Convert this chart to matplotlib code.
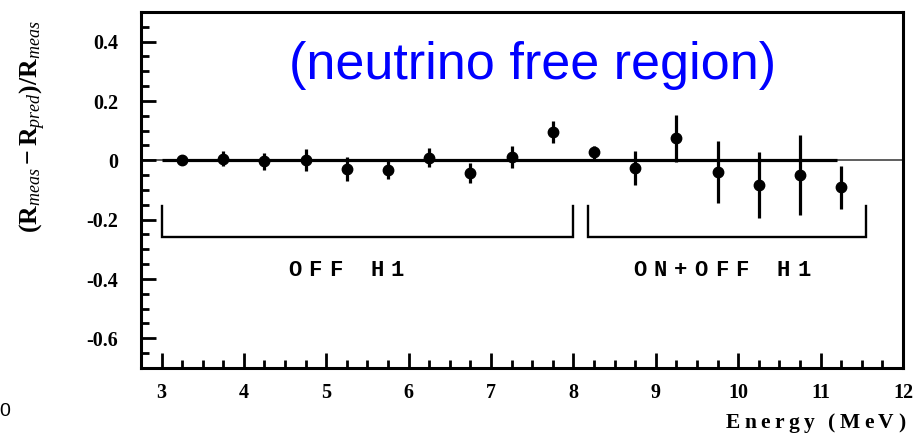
import matplotlib
matplotlib.use("Agg")
import matplotlib.pyplot as plt
from matplotlib.font_manager import FontProperties, findfont, get_font
import numpy as np

# residuals per 0.5 MeV bin
energy = [3.25, 3.75, 4.25, 4.75, 5.25, 5.75, 6.25, 6.75, 7.25,
          7.75, 8.25, 8.75, 9.25, 9.75, 10.25, 10.75, 11.25]
ratio = [0.0, 0.006, -0.003, 0.0, -0.028, -0.032, 0.008, -0.042, 0.011,
         0.097, 0.028, -0.026, 0.074, -0.040, -0.082, -0.048, -0.091]
err = [0.012, 0.025, 0.029, 0.037, 0.040, 0.030, 0.032, 0.033, 0.037,
       0.037, 0.022, 0.058, 0.078, 0.104, 0.111, 0.135, 0.072]

# data-taking periods shown as brackets under the points
periods = ["OFF H1", "ON+OFF H1"]
period_lo = [3.0, 8.18]
period_hi = [7.99, 11.55]
period_label_x = [5.24, 9.80]

yticks = [-0.6, -0.4, -0.2, 0, 0.2, 0.4]
ytick_labels = ["-0.6", "-0.4", "-0.2", "0", "0.2", "0.4"]
xticks = list(range(3, 13))

DPI = 100
serif_b = dict(family="Liberation Serif", weight="bold")

plt.rcParams["mathtext.fontset"] = "custom"
plt.rcParams["mathtext.rm"] = "Liberation Serif:bold"
plt.rcParams["mathtext.bf"] = "Liberation Serif:bold"
plt.rcParams["mathtext.it"] = "Liberation Serif:italic"

fig = plt.figure(figsize=(9.14, 4.34), dpi=DPI)
ax = fig.add_axes([140.5 / 914, 66 / 434, (903 - 140.5) / 914, (368 - 12) / 434])
ax.set_xlim(2.745, 12)
ax.set_ylim(-0.7, 0.5)

# zero reference: thin across the frame, thick over the fitted range
ax.axhline(0, color="#333333", lw=1.1, zorder=1)
ax.hlines(0, 3.0, 11.2, color="black", lw=2.3, zorder=2)

ax.errorbar(energy, ratio, yerr=err, fmt="o", color="black", ms=7.5,
            elinewidth=2.3, capsize=0, zorder=3)

for lo, hi in zip(period_lo, period_hi):
    ax.plot([lo, lo, hi, hi], [-0.155, -0.257, -0.257, -0.155],
            color="black", lw=1.7, solid_joinstyle="miter")


def spaced_label(s, x, y, pitch_px, **kw):
    # monospace label with wide letter spacing, one glyph per text
    n = len(s)
    for i, ch in enumerate(s):
        if ch == " ":
            continue
        off = (i - (n - 1) / 2) * pitch_px * 72 / DPI
        ax.annotate(ch, xy=(x, y), xytext=(off, 0), textcoords="offset points",
                    ha="center", va="center", **kw)


for name, xc in zip(periods, period_label_x):
    spaced_label(name, xc, -0.37, 20.5, family="Liberation Mono",
                 weight="bold", fontsize=16)

ax.text(7.5, 0.273, "(neutrino free region)", color="#0000ff",
        family="Liberation Sans", fontsize=37.5, ha="center", va="baseline")

# axes frame and ticks
for sp in ax.spines.values():
    sp.set_linewidth(2.2)
ax.set_yticks(yticks)
ax.set_yticklabels(ytick_labels)
ax.set_yticks(np.arange(-0.7, 0.5001, 0.05), minor=True)
ax.set_xticks(xticks)
ax.set_xticks(np.arange(2.75, 12.001, 0.25), minor=True)
ax.tick_params(which="both", direction="in", width=2.0, top=False, right=False)
ax.tick_params(which="major", length=11)
ax.tick_params(which="minor", length=6)
ax.tick_params(axis="x", which="major", pad=11)
ax.tick_params(axis="y", which="major", pad=16)
for lab in ax.get_xticklabels() + ax.get_yticklabels():
    lab.set_fontproperties(FontProperties(size=14.5, **serif_b))

fig.text(33 / 914, 1 - 127 / 434,
         r"$(\mathrm{R}_{meas} - \mathrm{R}_{pred})/\mathrm{R}_{meas}$",
         rotation=90, ha="center", va="center", fontsize=18.5)

# x-axis title, letter-spaced and right aligned near the frame corner
title = "Energy (MeV)"
size_pt = 15.5
font = get_font(findfont(FontProperties(size=size_pt, **serif_b)))
font.set_size(size_pt, DPI)
adv = [font.load_char(ord(c)).linearHoriAdvance / 65536 for c in title]
gap = 4.3
total = sum(adv) + gap * (len(title) - 1)
xpos = 905 - total
for c, a in zip(title, adv):
    if c != " ":
        fig.text(xpos / 914, 1 - 428 / 434, c, ha="left", va="baseline",
                 fontsize=size_pt, **serif_b)
    xpos += a + gap

fig.text(-1 / 914, 1 - 412 / 434, "0", family="Liberation Sans",
         fontsize=14, ha="left", va="center")

fig.savefig("out.png", dpi=DPI)
